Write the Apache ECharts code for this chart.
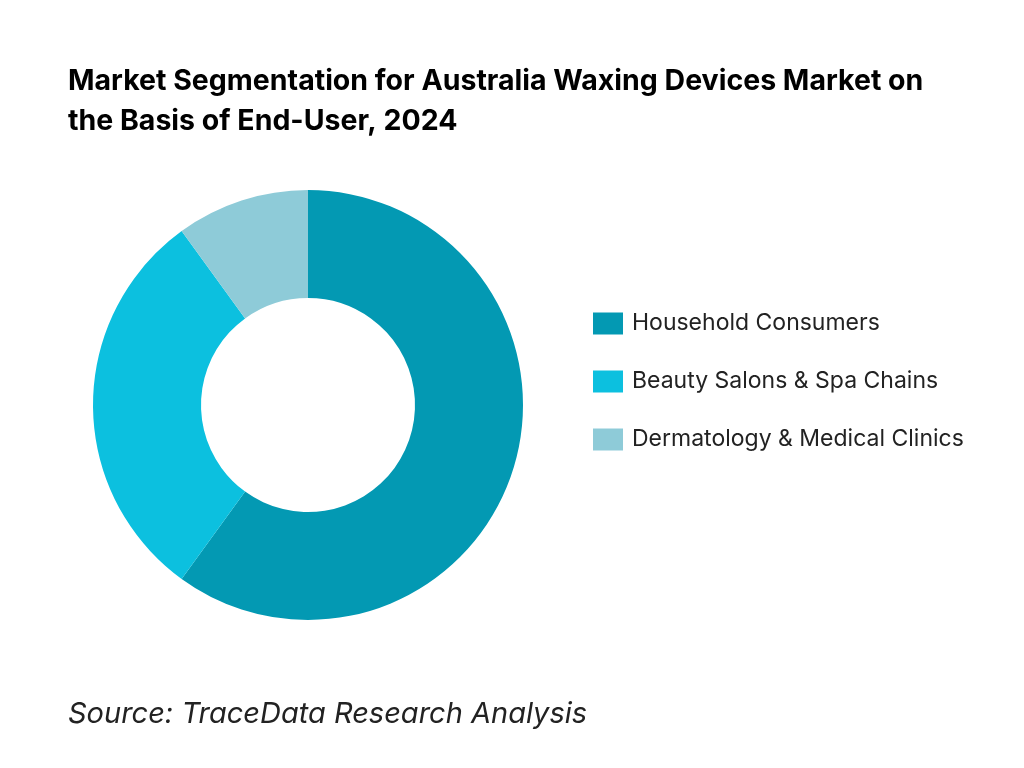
<!DOCTYPE html>
<html><head><meta charset="utf-8">
<script src="https://cdn.jsdelivr.net/npm/echarts@6/dist/echarts.min.js"></script>
<style>html,body{margin:0;padding:0;background:#fff}#c{width:1024px;height:768px}</style>
</head><body><div id="c"></div>
<script>
const categories = ["Household Consumers", "Beauty Salons & Spa Chains", "Dermatology & Medical Clinics"];
const values = [60, 30, 10];
const colors = ["#0399b3", "#0cc0df", "#8ecbd8"];
const chart = echarts.init(document.getElementById('c'));
chart.setOption({
  animation: false,
  title: {
    text: "Market Segmentation for Australia Waxing Devices Market on\nthe Basis of End-User, 2024",
    left: 63, top: 56,
    textStyle: {fontFamily: "Inter", fontWeight: "bold", fontSize: 28.5, lineHeight: 40, color: "#000"}
  },
  graphic: [{type: "text", left: 68, top: 700,
    style: {text: "Source: TraceData Research Analysis", font: "italic 29px Inter", fill: "#222"}}],
  legend: {
    orient: "vertical", left: 588, top: 307, itemWidth: 30, itemHeight: 22, itemGap: 35,
    icon: "rect",
    textStyle: {fontFamily: "Inter", fontSize: 23, color: "#222", padding: [0,0,0,4]},
    data: categories
  },
  series: [{
    type: "pie", center: [308, 405], radius: [107, 215], startAngle: 90, clockwise: true,
    label: {show: false}, labelLine: {show: false},
    data: categories.map((n, i) => ({name: n, value: values[i], itemStyle: {color: colors[i]}}))
  }]
});
</script></body></html>
